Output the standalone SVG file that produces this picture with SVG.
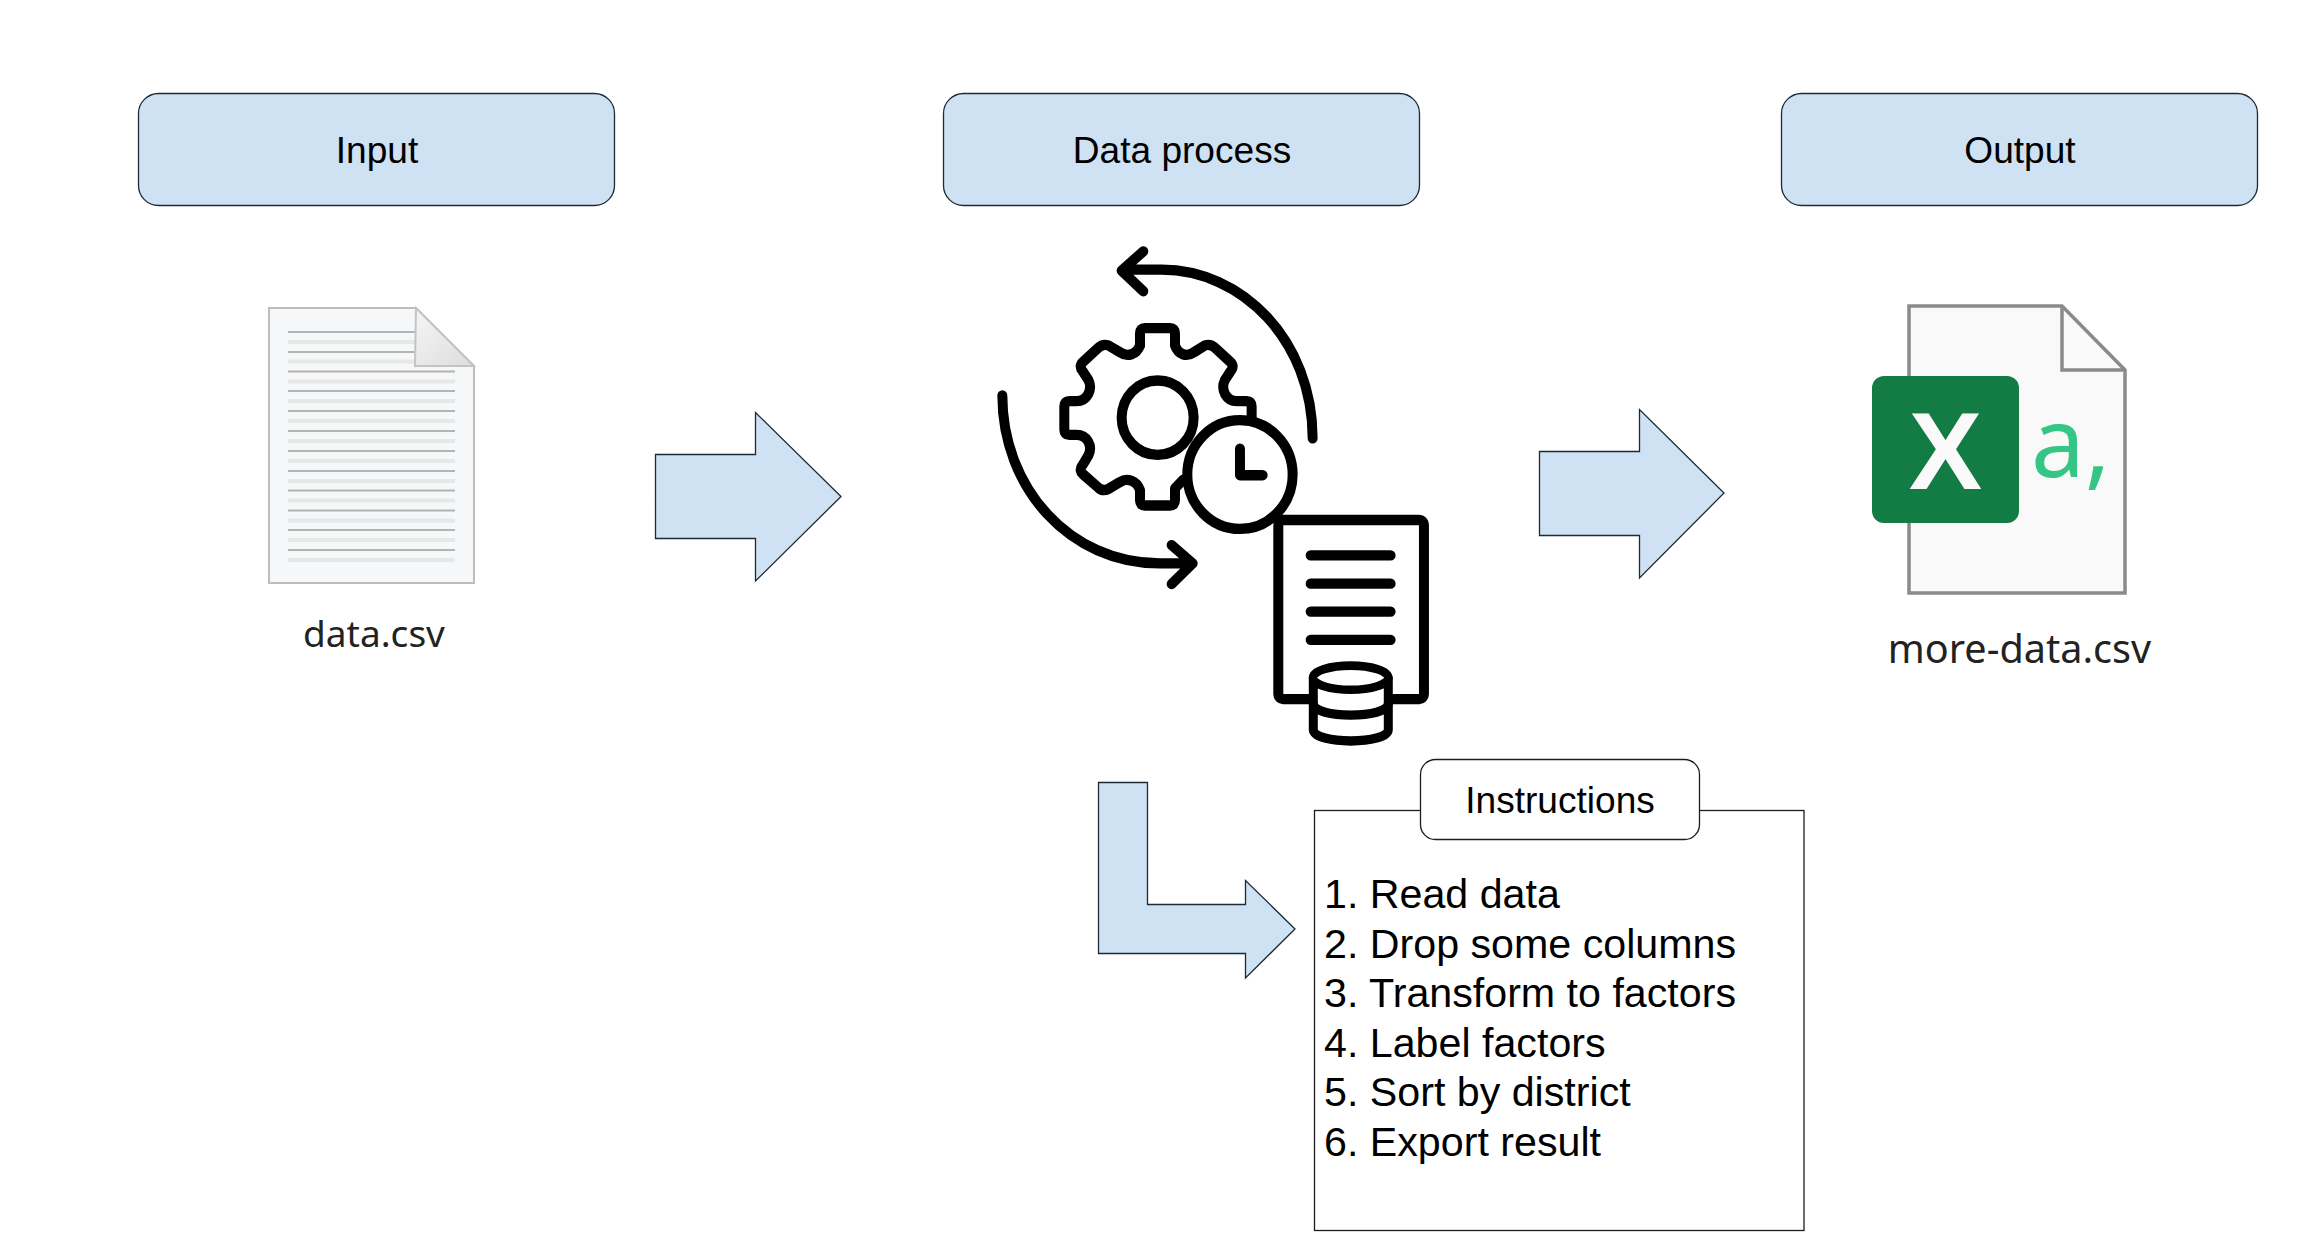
<svg xmlns="http://www.w3.org/2000/svg" width="2313" height="1251" viewBox="0 0 2313 1251">
<defs><linearGradient id="fold" x1="0" y1="0" x2="1" y2="1"><stop offset="0" stop-color="#f6f6f6"/><stop offset="1" stop-color="#dcdcdc"/></linearGradient></defs>
<style>
.hdr{fill:#cfe2f3;stroke:#1c2a36;stroke-width:1.300}
.arrow{fill:#cfe2f3;stroke:#1c2a36;stroke-width:1.300}
.t{font-family:"Liberation Sans",Arial,sans-serif;fill:#000;font-size:37.100px}
.c{text-anchor:middle}
.li{font-size:41.200px}
.fn{font-family:"Noto Sans","Open Sans",sans-serif;font-size:37px;fill:#222}
.ink{fill:none;stroke:#000;stroke-width:30;stroke-linecap:round;stroke-linejoin:round}
.dk{stroke:#b4b4b4;stroke-width:2}
.lt{stroke:#e6e8e8;stroke-width:4}
</style>
<rect width="2313" height="1251" fill="#fff"/>
<g id="connectors">
<path class="arrow" d="M655.500 454.500H755.500V412.500L841 496.500L755.500 581V538.500H655.500Z"/>
<path class="arrow" d="M1539.500 451.500H1639.500V409.500L1724 493L1639.500 578V535.500H1539.500Z"/>
<path class="arrow" d="M1098.500 782.500H1147.500V904.500H1245.500V880.500L1295 929L1245.500 978V953.500H1098.500Z"/>
</g>
<g id="node-input"><rect class="hdr" x="138.500" y="93.500" width="476" height="112" rx="20"/><text class="t c" x="377" y="163">Input</text></g>
<g id="node-process"><rect class="hdr" x="943.500" y="93.500" width="476" height="112" rx="20"/><text class="t c" x="1182" y="163">Data process</text></g>
<g id="node-output"><rect class="hdr" x="1781.500" y="93.500" width="476" height="112" rx="20"/><text class="t c" x="2020" y="163">Output</text></g>
<g id="node-data-file">
<path d="M269 308H416L474 366V583H269Z" fill="#f6f7f8" stroke="#bdbdbd" stroke-width="2"/>
<path class="dk" d="M288 332H415M288 352H415"/>
<path class="lt" d="M288 342H415M288 361.500H415"/>
<path class="dk" d="M288 371.500H455M288 391H455M288 411H455M288 431H455M288 451H455M288 471H455M288 490.500H455M288 510.500H455M288 530H455M288 550H455"/>
<path class="lt" d="M288 381.500H455M288 401H455M288 421H455M288 441H455M288 461H455M288 481H455M288 500.500H455M288 520.500H455M288 540H455M288 560H455"/>
<path d="M416 308L474 366H415Z" fill="url(#fold)" stroke="#c4c4c4" stroke-width="2"/>
<text class="fn c" x="374" y="647">data.csv</text>
</g>
<g id="node-process-icon" transform="translate(970 230) scale(.3333 .3444)">
<path class="ink" d="M510 335V300Q510 285 525 285H600Q615 285 615 300V335C625 362 650 370 672 355L705 335Q722 330 735 342L780 382Q795 395 782 410L765 435C750 465 770 497 800 497H830Q845 497 845 512V560"/>
<path class="ink" d="M510 335C500 362 472 370 450 355L415 335Q398 330 385 342L340 382Q325 395 338 410L355 435C370 465 350 497 320 497H298Q283 497 283 512V580Q283 595 298 595H320C350 595 370 625 355 655L338 682Q325 697 340 710L385 748Q398 760 415 752L450 732C472 718 500 728 510 755V785Q510 800 525 800H600Q615 800 615 785V750L640 725"/>
<circle class="ink" cx="563" cy="545" r="108"/>
<circle class="ink" cx="810" cy="710" r="158" style="fill:#fff"/>
<path class="ink" d="M810 635V712H878"/>
<path class="ink" d="M1028 605C1028 320 815 115 575 115H460M520 62L455 118L520 178"/>
<path class="ink" d="M97 480C97 750 300 968 570 968H665M605 915L668 968L605 1028"/>
<rect class="ink" x="925" y="842" width="437" height="520" rx="14" style="fill:#fff"/>
<path class="ink" d="M1022 945H1262M1022 1027H1262M1022 1108H1262M1022 1190H1262"/>
<path class="ink" d="M1030 1300V1450C1030 1495 1255 1495 1255 1450V1300" style="fill:#fff;stroke-width:27"/>
<ellipse class="ink" cx="1142" cy="1300" rx="113" ry="35" style="fill:#fff;stroke-width:25"/>
<path class="ink" d="M1030 1375C1030 1420 1255 1420 1255 1375" style="stroke-width:27"/>
</g>
<g id="node-output-file">
<path d="M1909 306H2062L2125 370V593H1909Z" fill="#f9f9f9" stroke="#8a8a88" stroke-width="3.500"/>
<path d="M2062 306V370H2125" fill="none" stroke="#8a8a88" stroke-width="3.500"/>
<rect x="1872" y="376" width="147" height="147" rx="12" fill="#137c45"/>
<text x="1945.500" y="489" text-anchor="middle" font-family="'Liberation Sans',sans-serif" font-weight="700" font-size="110" fill="#fafafa">X</text>
<text x="2031" y="477" font-family="'Noto Sans','Open Sans',sans-serif" font-size="96" fill="#35c585">a,</text>
<text class="fn" x="2019.500" y="663" text-anchor="middle" style="font-size:39.600px">more-data.csv</text>
</g>
<g id="node-instructions">
<rect x="1314.500" y="810.500" width="489.500" height="420" fill="#fff" stroke="#1c1c1c" stroke-width="1.300"/>
<rect x="1420.500" y="759.500" width="279" height="80" rx="15" fill="#fff" stroke="#1c1c1c" stroke-width="1.300"/>
<text class="t c" x="1560" y="813">Instructions</text>
<text class="t li" x="1324" y="908">1. Read data</text>
<text class="t li" x="1324" y="958">2. Drop some columns</text>
<text class="t li" x="1324" y="1007">3. Transform to factors</text>
<text class="t li" x="1324" y="1057">4. Label factors</text>
<text class="t li" x="1324" y="1106">5. Sort by district</text>
<text class="t li" x="1324" y="1156">6. Export result</text>
</g>
</svg>
